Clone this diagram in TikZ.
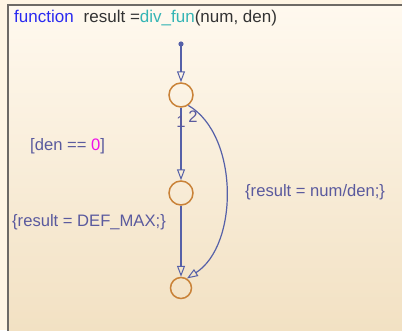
\documentclass[tikz,border=0pt]{standalone}
\usepackage{fontspec}
\setmainfont{Liberation Sans}
\usetikzlibrary{arrows.meta}
\definecolor{outerbg}{HTML}{FFF5E4}
\definecolor{boxtop}{HTML}{FFF9EF}
\definecolor{boxbot}{HTML}{F2E1C3}
\definecolor{frame}{HTML}{6E6A66}
\definecolor{wire}{HTML}{5560A8}
\definecolor{junc}{HTML}{C98238}
\definecolor{labtxt}{HTML}{5A5A9E}
\definecolor{kwblue}{HTML}{2A2AF0}
\definecolor{fnteal}{HTML}{35B5B5}
\definecolor{plain}{HTML}{333333}
\definecolor{numpink}{HTML}{F010E8}
\tikzset{
  junction/.style={circle, draw=junc, line width=1.5pt, minimum size=24pt, inner sep=0pt},
  wirearrow/.style={draw=wire, line width=1.2pt, -{Triangle[open, length=11pt, width=8pt, line width=1pt]}},
  label text/.style={anchor=west, inner sep=0pt, text=labtxt, font=\fontsize{16.6}{19}\selectfont},
  num text/.style={inner sep=0pt, text=labtxt, font=\fontsize{16.6}{19}\selectfont}
}
\begin{document}
\begin{tikzpicture}[x=1pt,y=-1pt]
\useasboundingbox (0,0) rectangle (402,330);
\fill[outerbg] (0,0) rectangle (402,330);
\shade[top color=boxtop, bottom color=boxbot] (8,5) rectangle (402,330);
\draw[frame, line width=2.5pt] (8,340) -- (8,5) -- (410,5);
\node[anchor=west, inner sep=0pt, font=\fontsize{17}{19}\selectfont] (title) at (14,18)
  {\textcolor{kwblue}{function}\hspace{10pt}\textcolor{plain}{result =}\textcolor{fnteal}{div\_fun}\textcolor{plain}{(num, den)}};
\coordinate (start) at (181,44);
\fill[wire] (start) circle (2.6pt);
\node[junction] (c1) at (181,95) {};
\node[junction] (c2) at (181,193) {};
\node[junction, minimum size=21pt] (c3) at (181,288) {};
\draw[wirearrow] (start) -- (c1.north);
\draw[wirearrow] (c1.south) -- (c2.north);
\draw[wirearrow] (c2.south) -- (c3.north);
\draw[wirearrow] (c1.-55) .. controls (239,135) and (239,245) .. (c3.58);
\node[num text] (n1) at (181,122) {1};
\node[num text] (n2) at (193,117) {2};
\node[label text] (guard) at (30,146) {[den == \textcolor{numpink}{0}]};
\node[label text] (act1) at (12,222) {\{result = DEF\_MAX;\}};
\node[label text] (act2) at (245,192) {\{result = num/den;\}};
\end{tikzpicture}
\end{document}
